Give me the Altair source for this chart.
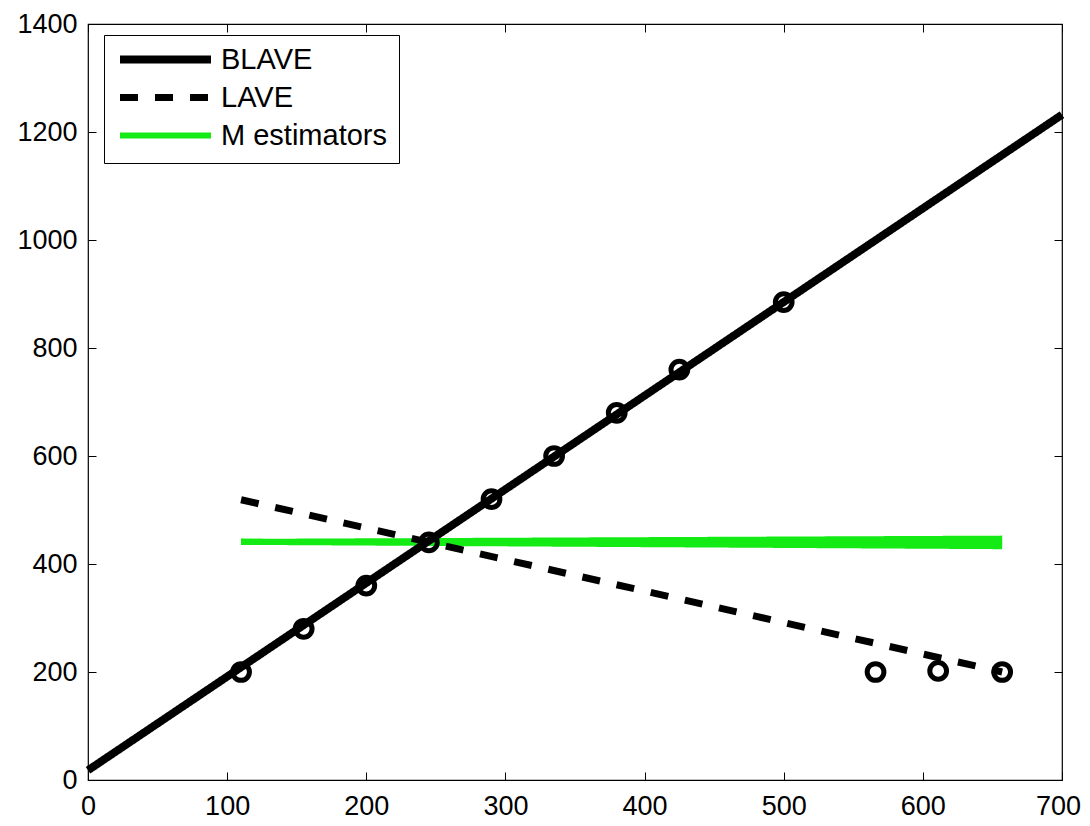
import altair as alt
import pandas as pd

# ---- data ----
series_names = ["BLAVE", "LAVE", "M estimators"]

blave_x = [0, 700]
blave_y = [18, 1232]

lave_x = [110, 657]
lave_y = [519, 200]

m_x = [110, 657]
m_y_sets = [[441, 447], [441, 440], [441, 433]]

pts_x = [110, 155, 200, 245, 290, 335, 380, 425, 500, 566, 611, 657]
pts_y = [200, 280, 360, 440, 520, 600, 680, 760, 885, 200, 202, 200]

x_ticks = [0, 100, 200, 300, 400, 500, 600, 700]
y_ticks = [0, 200, 400, 600, 800, 1000, 1200, 1400]

# ---- build tables ----
rows = []
for i, ys in enumerate(m_y_sets):
    for x, y in zip(m_x, ys):
        rows.append({"x": x, "y": y, "series": "M estimators", "id": f"m{i}"})
for x, y in zip(lave_x, lave_y):
    rows.append({"x": x, "y": y, "series": "LAVE", "id": "lave"})
for x, y in zip(blave_x, blave_y):
    rows.append({"x": x, "y": y, "series": "BLAVE", "id": "blave"})
lines_df = pd.DataFrame(rows)
pts_df = pd.DataFrame({"x": pts_x, "y": pts_y})

W, H = 974, 756
FONT = "Liberation Sans"

xscale = alt.Scale(domain=[0, 700], nice=False, zero=False)
yscale = alt.Scale(domain=[0, 1400], nice=False, zero=False)

lines = alt.Chart(lines_df).mark_line(strokeCap="butt").encode(
    x=alt.X("x:Q", scale=xscale,
            axis=alt.Axis(orient="top", offset=-H, values=x_ticks, title=None,
                          format="d",
                          grid=False, domain=False, tickSize=8, tickColor="black",
                          labelPadding=-21, labelBaseline="top",
                          labelOffset=alt.ExprRef(expr="datum.value == 700 ? -4 : 0"),
                          labelFontSize=27, labelFont=FONT, labelColor="black",
                          labelFlush=False)),
    y=alt.Y("y:Q", scale=yscale,
            axis=alt.Axis(orient="right", offset=-W, values=y_ticks, title=None,
                          format="d",
                          grid=False, domain=False, tickSize=8, tickColor="black",
                          labelPadding=-19, labelAlign="right",
                          labelFontSize=27, labelFont=FONT, labelColor="black",
                          labelFlush=False)),
    color=alt.Color("series:N",
                    scale=alt.Scale(domain=series_names,
                                    range=["black", "black", "#14ea14"]),
                    legend=alt.Legend(
                        title=None, orient="none", legendX=16, legendY=11,
                        symbolType="stroke", symbolSize=8281, clipHeight=25,
                        rowPadding=8, padding=12, labelOffset=6,
                        labelFontSize=29, labelFont=FONT, labelColor="black",
                        strokeColor="black", fillColor="white",
                        labelLimit=400)),
    strokeDash=alt.StrokeDash("series:N",
                              scale=alt.Scale(domain=series_names,
                                              range=[[1, 0], [18, 17], [1, 0]])),
    strokeWidth=alt.StrokeWidth("series:N",
                                scale=alt.Scale(domain=series_names,
                                                range=[8, 6, 4])),
    detail="id:N",
    order=alt.Order("x:Q"),
)

points = alt.Chart(pts_df).mark_point(
    shape="circle", filled=False, size=280, strokeWidth=5, color="black", opacity=1
).encode(
    x=alt.X("x:Q", scale=xscale,
            axis=alt.Axis(orient="bottom", offset=-H, values=x_ticks, title=None,
                          grid=False, domain=False, tickSize=8, tickColor="black",
                          labels=False)),
    y=alt.Y("y:Q", scale=yscale,
            axis=alt.Axis(orient="left", offset=-W, values=y_ticks, title=None,
                          grid=False, domain=False, tickSize=8, tickColor="black",
                          labels=False)),
)

chart = alt.layer(lines, points).resolve_axis(
    x="independent", y="independent"
).properties(
    width=W, height=H,
    autosize=alt.AutoSizeParams(type="none"),
    padding={"left": 80, "top": 16, "right": 20, "bottom": 44},
    background="white",
).configure_view(stroke="black", strokeWidth=1.2)

chart.save("out.html", embed_options={"renderer": "svg", "actions": False})
